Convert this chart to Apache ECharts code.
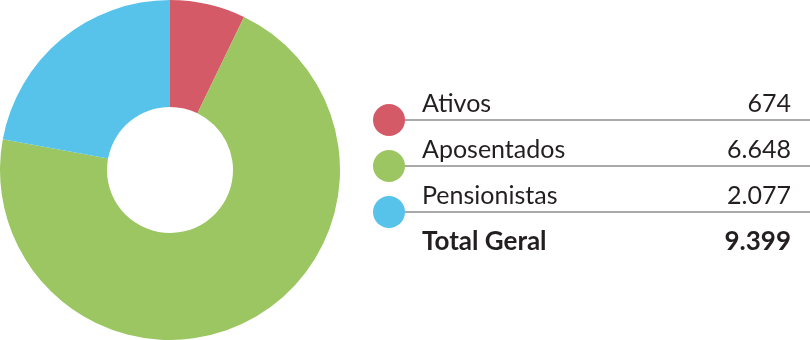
<!DOCTYPE html>
<html><head><meta charset="utf-8">
<script src="https://cdn.jsdelivr.net/npm/echarts@6/dist/echarts.min.js"></script>
<style>html,body{margin:0;padding:0;background:#fff}#c{width:810px;height:340px}</style>
</head><body><div id="c"></div>
<script>
const categories = ['Ativos', 'Aposentados', 'Pensionistas'];
const values = [674, 6648, 2077];
const valueLabels = ['674', '6.648', '2.077'];
const totalLabel = 'Total Geral';
const totalValue = '9.399';
const colors = ['#d55a67', '#9bc662', '#57c3ea'];

const chart = echarts.init(document.getElementById('c'), null, {renderer: 'canvas'});
const FONT = 'Lato';
const rowY = [120, 166, 212];
const graphics = [];
categories.forEach((c, i) => {
  graphics.push({type: 'line', shape: {x1: 403, y1: rowY[i], x2: 810, y2: rowY[i]}, style: {stroke: '#555', lineWidth: 1}});
  graphics.push({type: 'circle', shape: {cx: 389, cy: rowY[i], r: 16}, style: {fill: colors[i]}});
  graphics.push({type: 'text', x: 422, y: rowY[i] - 16, style: {text: c, font: '25px ' + FONT, fill: '#231f20', verticalAlign: 'middle', align: 'left'}});
  graphics.push({type: 'text', x: 791, y: rowY[i] - 16, style: {text: valueLabels[i], font: '25px ' + FONT, fill: '#231f20', verticalAlign: 'middle', align: 'right'}});
});
graphics.push({type: 'text', x: 422, y: 242, style: {text: totalLabel, font: 'bold 26px ' + FONT, fill: '#231f20', verticalAlign: 'middle', align: 'left'}});
graphics.push({type: 'text', x: 791, y: 242, style: {text: totalValue, font: 'bold 26px ' + FONT, fill: '#231f20', verticalAlign: 'middle', align: 'right'}});

chart.setOption({
  animation: false,
  color: colors,
  series: [{
    type: 'pie',
    center: [170, 170],
    radius: [63, 170],
    startAngle: 90,
    clockwise: true,
    label: {show: false},
    labelLine: {show: false},
    emphasis: {disabled: true},
    itemStyle: {borderWidth: 0},
    data: categories.map((c, i) => ({name: c, value: values[i]}))
  }],
  graphic: graphics
});
</script></body></html>
